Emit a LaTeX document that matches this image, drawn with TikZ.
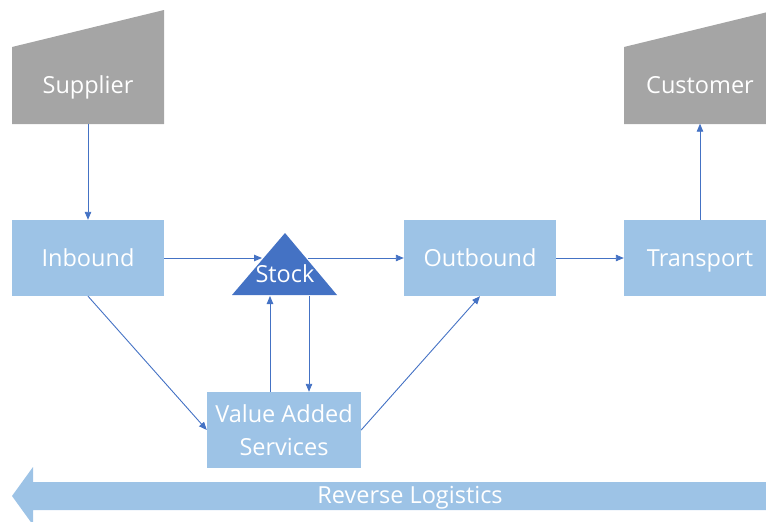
\documentclass[tikz,border=0pt]{standalone}
\usepackage{fontspec}
\setmainfont{Open Sans}
\usetikzlibrary{arrows.meta}
\definecolor{shapegray}{HTML}{A5A5A5}
\definecolor{boxblue}{HTML}{9DC3E6}
\definecolor{stockblue}{HTML}{4472C4}
\definecolor{linkblue}{HTML}{4472C4}
\begin{document}
\begin{tikzpicture}[x=1pt,y=-1pt,
  lbl/.style={text=white,font=\fontsize{23.5}{33}\selectfont,inner sep=0pt,
    text height=17pt,text depth=0pt},
  box/.style={lbl,fill=boxblue,minimum width=152pt,minimum height=76pt,align=center},
  site/.style={lbl,minimum width=152pt,minimum height=77pt},
  link/.style={draw=linkblue,line width=0.9pt,-{Triangle[length=8pt,width=6.5pt]}}]
\useasboundingbox (0,0) rectangle (766,522);
\clip (0,0) rectangle (766,522);

% warehouse-style end points (slanted roof)
\fill[shapegray] (12,124) -- (12,47) -- (164,10) -- (164,124) -- cycle;
\fill[shapegray] (624,124) -- (624,47) -- (776,10) -- (776,124) -- cycle;
\node[site] (sup) at (88,85) {Supplier};
\node[site] (cust) at (700,85) {Customer};

% process boxes
\node[box] (in) at (88,258) {Inbound};
\node[box] (out) at (480,258) {Outbound};
\node[box] (tr) at (700,258) {Transport};
\node[box,minimum width=154pt,text height=50pt] (vas) at (284,430) {Value Added\\Services};

% stock triangle
\fill[stockblue] (285,233) -- (337,295) -- (232,295) -- cycle;
\node[lbl] (stock) at (285,273.5) {Stock};
\coordinate (stockin) at (262,258);
\coordinate (stockout) at (308,258);
\coordinate (stockup) at (270,296);
\coordinate (stockdn) at (309,296);

% reverse logistics band
\fill[boxblue] (12,496) -- (33,467) -- (33,482) -- (780,482) -- (780,510)
  -- (33,510) -- (33,525) -- cycle;
\node[lbl] (rev) at (410,494.5) {Reverse Logistics};

% flows
\draw[link] (sup.south) -- (in.north);
\draw[link] (in.east) -- (stockin);
\draw[link] (stockout) -- (out.west);
\draw[link] (out.east) -- (tr.west);
\draw[link] (tr.north) -- (cust.south);
\draw[link] (in.south) -- (vas.west);
\draw[link] (vas.east) -- (out.south);
\draw[link] (vas.north -| stockup) -- (stockup);
\draw[link] (stockdn) -- (vas.north -| stockdn);
\end{tikzpicture}
\end{document}
